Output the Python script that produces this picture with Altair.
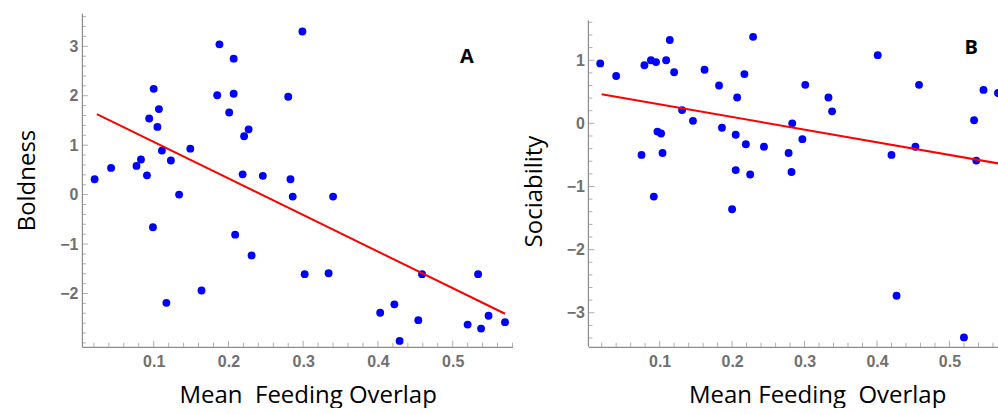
import altair as alt
import pandas as pd

# ---------------- Panel A : Boldness ----------------
a_x = [0.021, 0.043, 0.077, 0.083, 0.091, 0.094, 0.100, 0.105, 0.107, 0.111,
       0.123, 0.134, 0.149, 0.188, 0.185, 0.207, 0.207, 0.201, 0.221, 0.227,
       0.219, 0.246, 0.280, 0.299, 0.283, 0.286, 0.340, 0.099, 0.209, 0.231,
       0.302, 0.334, 0.164, 0.117, 0.459, 0.534, 0.403, 0.422, 0.429, 0.454,
       0.520, 0.538, 0.548, 0.570]
a_y = [0.31, 0.54, 0.58, 0.71, 0.39, 1.54, 2.14, 1.37, 1.73, 0.89,
       0.69, 0.00, 0.93, 3.04, 2.01, 2.75, 2.04, 1.66, 1.18, 1.32,
       0.41, 0.38, 1.98, 3.30, 0.31, -0.04, -0.04, -0.66, -0.81, -1.23,
       -1.61, -1.59, -1.94, -2.19, -1.61, -1.61, -2.39, -2.22, -2.96, -2.54,
       -2.63, -2.71, -2.45, -2.58]
a_fit_x = [0.024, 0.570]
a_fit_y = [1.63, -2.41]

# ---------------- Panel B : Sociability ----------------
b_x = [0.018, 0.040, 0.079, 0.088, 0.095, 0.109, 0.114, 0.120, 0.162, 0.182,
       0.217, 0.229, 0.207, 0.131, 0.146, 0.097, 0.102, 0.186, 0.205, 0.219,
       0.075, 0.104, 0.205, 0.225, 0.092, 0.200, 0.301, 0.333, 0.338, 0.401,
       0.458, 0.547, 0.567, 0.534, 0.283, 0.297, 0.244, 0.278, 0.420, 0.453,
       0.537, 0.282, 0.427, 0.520]
b_y = [0.95, 0.75, 0.92, 1.00, 0.97, 1.00, 1.32, 0.81, 0.85, 0.60,
       0.78, 1.37, 0.41, 0.21, 0.04, -0.13, -0.16, -0.07, -0.18, -0.33,
       -0.50, -0.47, -0.74, -0.81, -1.16, -1.36, 0.61, 0.41, 0.19, 1.08,
       0.61, 0.53, 0.48, 0.05, 0.00, -0.25, -0.37, -0.47, -0.50, -0.37,
       -0.59, -0.77, -2.73, -3.39]
b_fit_x = [0.020, 0.570]
b_fit_y = [0.46, -0.64]

# axis ranges and ticks
a_x_domain = [0.004, 0.58]
a_y_domain = [-3.08, 3.67]
b_x_domain = [0.0017, 0.567]
b_y_domain = [-3.54, 1.745]
b_y_axis_top = 1.63

x_major = [0.1, 0.2, 0.3, 0.4, 0.5]
a_x_minor = [0.02, 0.04, 0.06, 0.08, 0.12, 0.14, 0.16, 0.18, 0.22, 0.24, 0.26, 0.28,
             0.32, 0.34, 0.36, 0.38, 0.42, 0.44, 0.46, 0.48, 0.52, 0.54, 0.56, 0.58]
b_x_minor = [0.02, 0.04, 0.06, 0.08, 0.12, 0.14, 0.16, 0.18, 0.22, 0.24, 0.26, 0.28,
             0.32, 0.34, 0.36, 0.38, 0.42, 0.44, 0.46, 0.48, 0.52, 0.54, 0.56]
a_y_major = [-2, -1, 0, 1, 2, 3]
a_y_minor = [-3.0, -2.8, -2.6, -2.4, -2.2, -1.8, -1.6, -1.4, -1.2, -0.8, -0.6, -0.4, -0.2,
             0.2, 0.4, 0.6, 0.8, 1.2, 1.4, 1.6, 1.8, 2.2, 2.4, 2.6, 2.8, 3.2, 3.4, 3.6]
b_y_major = [-3, -2, -1, 0, 1]
b_y_minor = [-3.4, -3.2, -2.8, -2.6, -2.4, -2.2, -1.8, -1.6, -1.4, -1.2, -0.8, -0.6, -0.4,
             -0.2, 0.2, 0.4, 0.6, 0.8, 1.2, 1.4, 1.6]

AXIS_GRAY = "#8c8c8c"


def panel(xs, ys, fx, fy, xdom, ydom, xmin_ticks, ymaj, ymin_ticks, ytitle, xtitle,
          letter, letter_x, letter_y, width, height, ytitle_pad, xtitle_x, ytitle_y,
          own_y_domain=False, y_axis_top=None):
    xs_scale = alt.Scale(domain=xdom, nice=False, zero=False)
    ys_scale = alt.Scale(domain=ydom, nice=False, zero=False)
    ax_x = alt.Axis(values=x_major, format=".1f", title=xtitle, titleX=xtitle_x,
                    titlePadding=14, labelPadding=7)
    ax_y = alt.Axis(values=ymaj, format="d", title=ytitle, titlePadding=ytitle_pad,
                    labelPadding=4, titleY=ytitle_y, domain=not own_y_domain)
    pts = pd.DataFrame({"x": xs, "y": ys})
    fit = pd.DataFrame({"x": fx, "y": fy})

    points = alt.Chart(pts).mark_circle(size=62, color="#0000ff", opacity=1, clip=True).encode(
        x=alt.X("x:Q", scale=xs_scale, axis=ax_x),
        y=alt.Y("y:Q", scale=ys_scale, axis=ax_y),
    )
    line = alt.Chart(fit).mark_line(color="#ff0000", strokeWidth=2, clip=True).encode(
        x=alt.X("x:Q", scale=xs_scale, axis=ax_x),
        y=alt.Y("y:Q", scale=ys_scale, axis=ax_y),
    )

    def yticks(vals, size):
        return alt.Chart(pd.DataFrame({"v": vals})).mark_tick(
            orient="horizontal", size=size, thickness=1, color=AXIS_GRAY, xOffset=size / 2
        ).encode(
            x=alt.XDatum(xdom[0], scale=xs_scale, axis=ax_x),
            y=alt.Y("v:Q", scale=ys_scale, axis=ax_y),
        )

    def xticks(vals, size):
        return alt.Chart(pd.DataFrame({"v": vals})).mark_tick(
            orient="vertical", size=size, thickness=1, color=AXIS_GRAY, yOffset=-size / 2
        ).encode(
            x=alt.X("v:Q", scale=xs_scale, axis=ax_x),
            y=alt.YDatum(ydom[0], scale=ys_scale, axis=ax_y),
        )

    label = alt.Chart(pd.DataFrame({"t": [letter]})).mark_text(
        font="Open Sans", fontSize=20, fontWeight="bold", color="black"
    ).encode(
        x=alt.XDatum(letter_x, scale=xs_scale, axis=ax_x),
        y=alt.YDatum(letter_y, scale=ys_scale, axis=ax_y),
        text="t:N",
    )

    layers = [points, line, yticks(ymaj, 6), yticks(ymin_ticks, 4),
              xticks(x_major, 6), xticks(xmin_ticks, 4), label]
    if own_y_domain:
        rule = alt.Chart(pd.DataFrame({"a": [0]})).mark_rule(color=AXIS_GRAY, strokeWidth=1.2).encode(
            x=alt.XDatum(xdom[0], scale=xs_scale, axis=ax_x),
            y=alt.YDatum(y_axis_top, scale=ys_scale, axis=ax_y),
            y2=alt.Y2Datum(ydom[0]),
        )
        layers.append(rule)
    return alt.layer(*layers).properties(width=width, height=height)


panel_a = panel(a_x, a_y, a_fit_x, a_fit_y, a_x_domain, a_y_domain, a_x_minor,
                a_y_major, a_y_minor, "Boldness", "Mean\u00a0 Feeding Overlap",
                "A", 0.519, 2.78, 431, 334, 20, 226, 167)
panel_b = panel(b_x, b_y, b_fit_x, b_fit_y, b_x_domain, b_y_domain, b_x_minor,
                b_y_major, b_y_minor, "Sociability", "Mean Feeding\u00a0 Overlap",
                "B", 0.530, 1.19, 410, 334, 20, 229, 178,
                own_y_domain=True, y_axis_top=b_y_axis_top)

chart = alt.hconcat(panel_a, panel_b, spacing=8).properties(
    padding={"left": 15, "top": 13, "right": 0, "bottom": 0}
).configure_view(stroke=None).configure_axis(
    grid=False, ticks=False, domainColor=AXIS_GRAY, domainWidth=1.2,
    labelFont="Liberation Sans", labelFontWeight="bold", labelFontSize=16,
    labelColor="#707070", titleFont="Open Sans", titleFontSize=24,
    titleFontWeight="normal", titleColor="black",
)

chart.save("out.html", embed_options={"renderer": "svg", "actions": False})
